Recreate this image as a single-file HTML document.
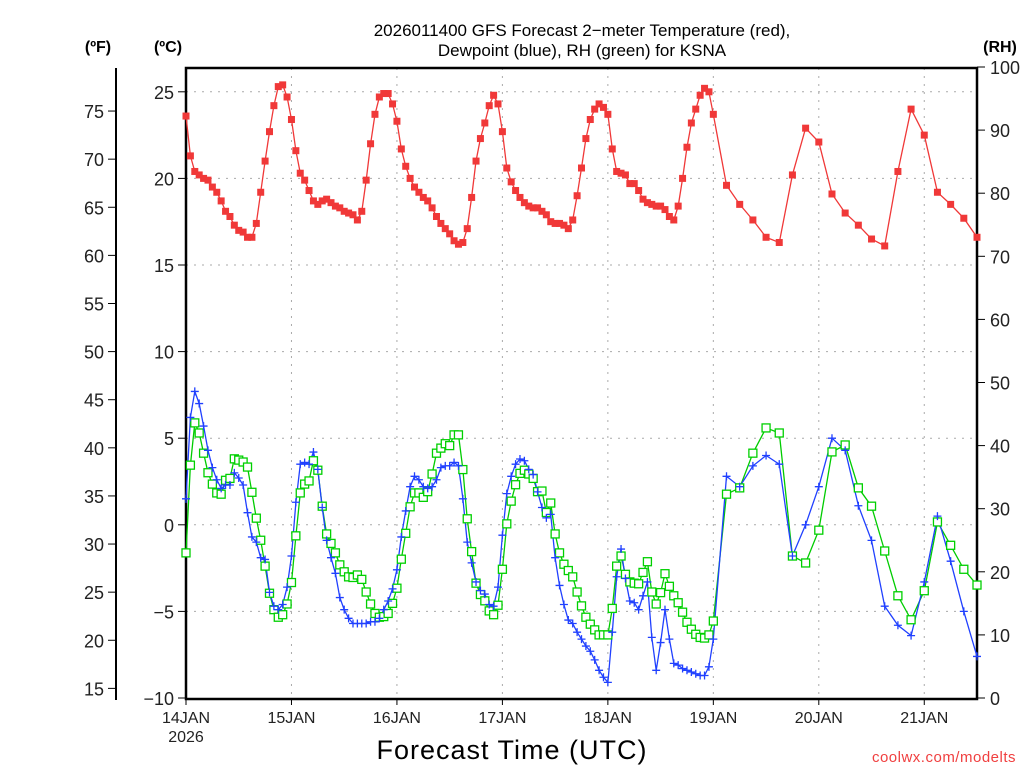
<!DOCTYPE html>
<html><head><meta charset="utf-8"><style>
html,body{margin:0;padding:0;background:#fff;}
svg{display:block;font-family:"Liberation Sans",sans-serif;}
</style></head><body>
<svg id="chart" width="1024" height="768" viewBox="0 0 1024 768">
<g id="grid"></g>
<g id="axes"></g>
<g id="series"></g>
<text x="582" y="36" text-anchor="middle" font-size="17" fill="#000">2026011400 GFS Forecast 2−meter Temperature (red),</text>
<text x="582" y="56" text-anchor="middle" font-size="17" fill="#000">Dewpoint (blue), RH (green) for KSNA</text>
<text x="98" y="52" text-anchor="middle" font-size="16" font-weight="bold">(ºF)</text>
<text x="168" y="52" text-anchor="middle" font-size="16" font-weight="bold">(ºC)</text>
<text x="1000" y="52" text-anchor="middle" font-size="16" font-weight="bold">(RH)</text>
<text x="512" y="759" text-anchor="middle" font-size="27" letter-spacing="1">Forecast Time (UTC)</text>
<text x="1016" y="762" text-anchor="end" font-size="15" fill="#f04040" letter-spacing="0.5">coolwx.com/modelts</text>
</svg>
<script>
const hours = [];
for (let h = 0; h <= 120; h++) hours.push(h);
for (let h = 123; h <= 180; h += 3) hours.push(h);
const tempC = [23.6,21.3,20.4,20.2,20.0,19.9,19.5,19.2,18.7,18.1,17.8,17.3,17.0,16.9,16.6,16.6,17.4,19.2,21.0,22.7,24.2,25.3,25.4,24.7,
23.4,21.6,20.3,19.9,19.3,18.7,18.5,18.7,18.8,18.6,18.4,18.3,18.1,18.0,17.9,17.6,18.1,19.9,22.0,23.7,24.7,24.9,24.9,24.3,
23.3,21.7,20.7,20.0,19.5,19.2,18.9,18.7,18.3,17.8,17.4,17.1,16.8,16.4,16.2,16.3,17.1,18.9,21.0,22.3,23.2,24.2,24.8,24.3,
22.7,20.6,19.8,19.3,18.9,18.6,18.4,18.3,18.3,18.1,17.9,17.5,17.4,17.4,17.3,17.1,17.6,19.0,20.6,22.3,23.4,24.0,24.3,24.1,
23.7,21.7,20.4,20.3,20.2,19.7,19.7,19.3,18.8,18.6,18.5,18.4,18.4,18.2,17.8,17.6,18.4,20.0,21.8,23.2,24.0,24.8,25.2,25.0,
23.7,19.6,18.5,17.6,16.6,16.3,20.2,22.9,22.1,19.1,18.0,17.3,16.5,16.1,20.4,24.0,22.5,19.2,18.5,17.7,16.6];
const dewC = [1.5,6.2,7.7,7.0,5.7,4.3,3.3,2.6,2.1,2.3,2.3,3.0,2.7,2.3,0.7,-0.7,-1.0,-1.9,-2.0,-3.9,-4.7,-4.9,-4.6,-3.6,
-1.8,1.3,3.5,3.6,3.5,4.2,3.2,1.0,-0.9,-1.9,-2.8,-4.2,-4.9,-5.4,-5.7,-5.7,-5.7,-5.7,-5.6,-5.6,-5.4,-4.9,-4.4,-3.7,
-2.6,-0.7,0.8,2.2,2.8,2.6,2.2,2.1,2.2,2.6,3.3,3.4,3.4,3.6,3.4,1.5,-1.0,-2.2,-3.3,-3.8,-4.0,-4.6,-4.7,-3.6,
-0.6,1.8,2.8,3.5,3.8,3.7,3.2,2.9,1.9,1.0,0.4,0.6,-1.9,-3.5,-4.6,-5.5,-5.7,-6.2,-6.6,-7.0,-7.3,-7.8,-8.4,-8.8,
-9.1,-6.2,-3.0,-1.4,-3.1,-4.4,-4.5,-4.9,-4.1,-3.3,-6.5,-8.4,-6.8,-4.9,-6.6,-8.0,-8.1,-8.3,-8.4,-8.5,-8.6,-8.7,-8.7,-8.2,
-6.6,2.8,2.2,3.4,4.0,3.5,-1.8,0.0,2.2,5.0,4.3,1.1,-0.9,-4.7,-5.8,-6.4,-3.3,0.5,-2.1,-5.0,-7.6];
const rhPct = [23.0,36.9,43.6,42.0,38.8,35.7,33.9,32.5,32.3,34.5,34.8,37.9,37.7,37.4,36.6,32.6,28.5,25.0,20.9,16.6,14.0,12.8,13.2,14.9,
18.3,25.7,32.5,33.9,34.4,37.6,36.1,30.4,26.0,24.5,23.0,21.1,20.0,19.2,19.1,19.5,18.8,16.8,14.9,13.4,12.8,12.9,13.4,15.0,
17.4,22.0,26.1,30.3,32.5,32.5,31.8,32.7,35.5,38.8,39.6,40.3,40.0,41.7,41.7,36.2,28.4,23.2,18.2,16.4,15.4,13.8,13.2,14.7,
20.4,27.6,31.2,33.8,35.6,36.1,35.5,34.8,32.7,32.8,29.4,30.9,26.0,23.0,21.2,20.2,19.2,16.8,14.6,12.8,11.7,10.8,10.0,10.0,
10.0,14.2,20.9,22.5,19.6,18.4,18.2,18.1,19.9,21.6,16.8,14.9,16.7,19.7,17.7,16.2,15.1,13.6,12.0,10.9,10.1,9.6,9.5,10.0,
12.2,32.3,33.3,38.8,42.8,42.0,22.5,21.4,26.6,39.0,40.1,33.3,30.4,23.3,16.2,12.4,17.0,27.9,24.2,20.4,17.9];
const cTicks = [-10,-5,0,5,10,15,20,25];
const fTicks = [15,20,25,30,35,40,45,50,55,60,65,70,75];
const rhTicks = [0,10,20,30,40,50,60,70,80,90,100];
const dayLabels = ["14JAN","15JAN","16JAN","17JAN","18JAN","19JAN","20JAN","21JAN"];

const NS = "http://www.w3.org/2000/svg";
const L = 186, R = 977, T = 68, B = 699;
const xS = h => L + h * (R - L) / 180;
const yC = c => 698 - (c + 10) * 86.6 / 5;
const yF = f => yC((f - 32) * 5 / 9);
const yRH = r => 698 - r * 6.31;
function mk(tag, attrs, parent) {
  const e = document.createElementNS(NS, tag);
  for (const k in attrs) e.setAttribute(k, attrs[k]);
  parent.appendChild(e);
  return e;
}
const grid = document.getElementById('grid'), axes = document.getElementById('axes'), series = document.getElementById('series');

cTicks.forEach(c => {
  const y = yC(c);
  if (c > -10) {
    const g = mk('line', {x1: L, x2: R, y1: y, y2: y, stroke: '#aaa', 'stroke-dasharray': '2,6'}, grid);
    
    
  }
  mk('line', {x1: L - 8, x2: L, y1: y, y2: y, stroke: '#000'}, axes);
  const t = mk('text', {x: L - 12, y: y + 7, 'text-anchor': 'end', 'font-size': 18, fill: '#222'}, axes);
  t.textContent = c < 0 ? '−' + Math.abs(c) : c;
  
  
});
mk('line', {x1: 116, x2: 116, y1: T, y2: 700, stroke: '#000', 'stroke-width': 2}, axes);
fTicks.forEach(f => {
  const y = yF(f);
  mk('line', {x1: 108, x2: 116, y1: y, y2: y, stroke: '#000'}, axes);
  const t = mk('text', {x: 104, y: y + 7, 'text-anchor': 'end', 'font-size': 18, fill: '#222'}, axes);
  t.textContent = f;
  
  
});
rhTicks.forEach(r => {
  const y = yRH(r);
  mk('line', {x1: R, x2: R + 8, y1: y, y2: y, stroke: '#000'}, axes);
  const t = mk('text', {x: 990, y: y + 7, 'text-anchor': 'start', 'font-size': 18, fill: '#222'}, axes);
  t.textContent = r;
  
  
});
dayLabels.forEach((d, i) => {
  const x = xS(i * 24);
  if (i > 0) {
    const g = mk('line', {x1: x, x2: x, y1: T, y2: B, stroke: '#aaa', 'stroke-dasharray': '2,6'}, grid);
    
    
  }
  mk('line', {x1: x, x2: x, y1: B, y2: B + 6, stroke: '#000'}, axes);
  const t = mk('text', {x: x, y: 723, 'text-anchor': 'middle', 'font-size': 16, fill: '#222'}, axes);
  t.textContent = d;
  
  
});
const yr = mk('text', {x: xS(0), y: 742, 'text-anchor': 'middle', 'font-size': 16, fill: '#222'}, axes);
yr.textContent = '2026';


const frame = mk('rect', {x: L, y: T, width: R - L, height: B - T, fill: 'none', stroke: '#000', 'stroke-width': 2.5}, axes);



function drawLine(vals, yfun, color, name) {
  const pts = vals.map((v, i) => xS(hours[i]).toFixed(1) + ',' + yfun(v).toFixed(1)).join(' ');
  const p = mk('polyline', {points: pts, fill: 'none', stroke: color, 'stroke-width': 1.3}, series);
  
  
}
drawLine(rhPct, yRH, '#00cc00', 'rh-line');
drawLine(dewC, yC, '#2040ff', 'dewpoint-line');
drawLine(tempC, yC, '#f03838', 'temperature-line');
rhPct.forEach((v, i) => {
  const m = mk('rect', {x: xS(hours[i]) - 4, y: yRH(v) - 4, width: 8, height: 8, fill: '#fff', stroke: '#00d000', 'stroke-width': 1.3}, series);
  
  
});
dewC.forEach((v, i) => {
  const x = xS(hours[i]), y = yC(v);
  const m = mk('path', {d: `M${x-4},${y}H${x+4}M${x},${y-4}V${y+4}`, stroke: '#2040ff', 'stroke-width': 1.3}, series);
  
  
});
tempC.forEach((v, i) => {
  const m = mk('rect', {x: xS(hours[i]) - 3.5, y: yC(v) - 3.5, width: 7, height: 7, fill: '#f03838'}, series);
  
  
});
</script>
</body></html>
